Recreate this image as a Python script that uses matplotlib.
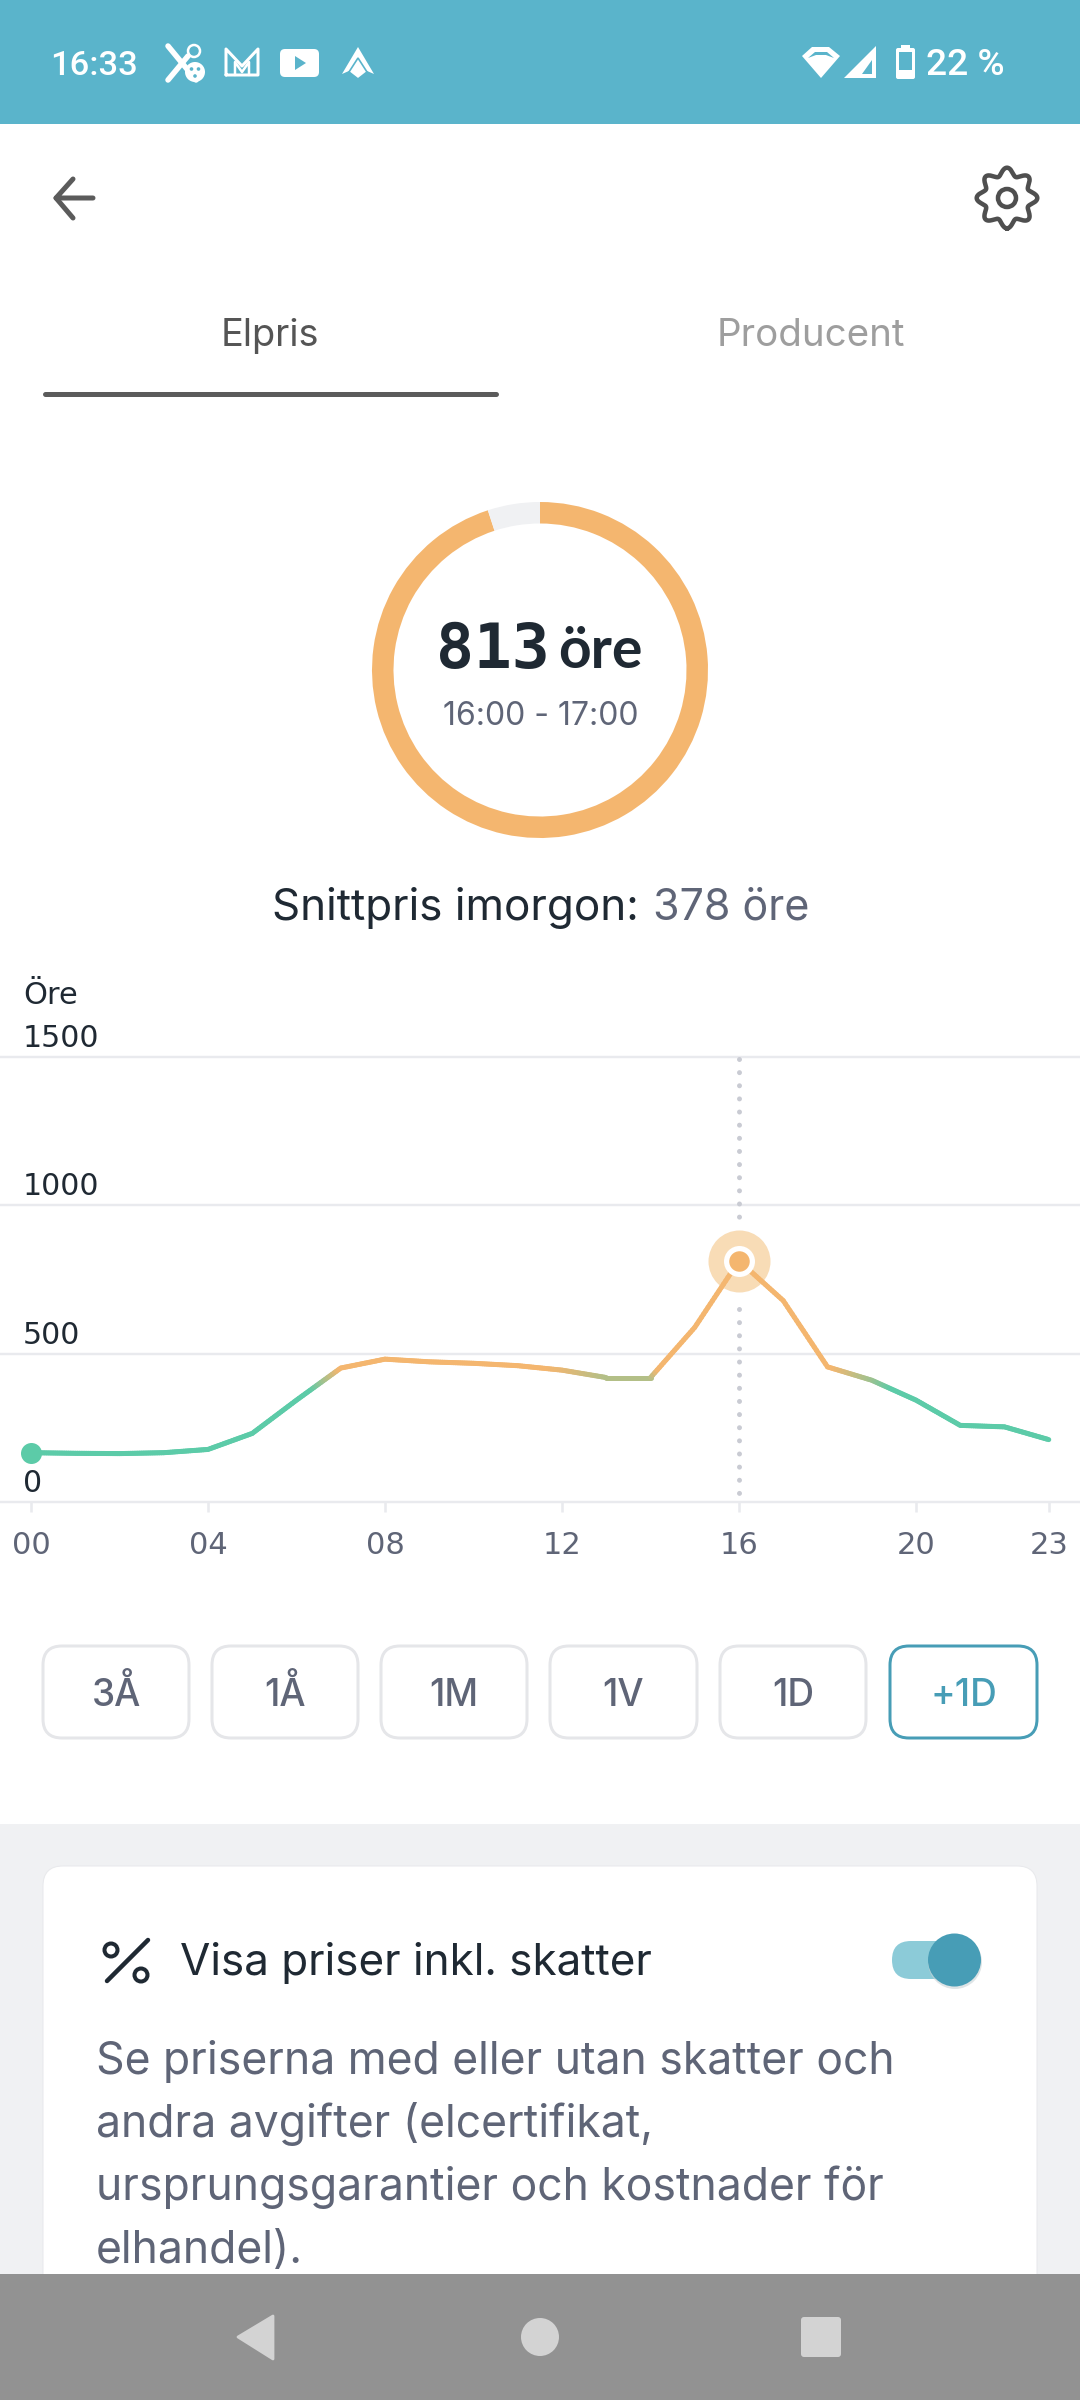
import numpy as np
import matplotlib
matplotlib.use("Agg")
import matplotlib.pyplot as plt
from matplotlib.collections import LineCollection
from matplotlib.colors import to_rgb
from matplotlib.patches import FancyBboxPatch, Circle, Polygon, Rectangle

# ---------- data ----------
hours = list(range(24))
prices = [167, 165, 164, 167, 178, 232, 344, 452, 482, 473, 468, 460,
          445, 420, 420, 589, 813, 679, 456, 411, 344, 259, 254, 211]
highlight_hour = 16
y_ticks = [0, 500, 1000, 1500]
x_ticks = [0, 4, 8, 12, 16, 20, 23]
x_tick_labels = ["00", "04", "08", "12", "16", "20", "23"]
ring_values = [813, 43]
range_buttons = ["3Å", "1Å", "1M", "1V", "1D", "+1D"]
body_lines = ["Se priserna med eller utan skatter och",
              "andra avgifter (elcertifikat,",
              "ursprungsgarantier och kostnader för",
              "elhandel)."]

# ---------- colours ----------
DARK = "#1F2933"
GREY = "#5F6577"
GREEN = "#5CCBA8"
ORANGE = "#F4B66F"
TEAL = "#479DB6"
GRID = "#E9EAEE"
PANEL = "#F0F1F3"

W, H = 1080, 2400
PX = 0.72
fig = plt.figure(figsize=(W / 100, H / 100), dpi=100, facecolor="white")

ui = fig.add_axes([0, 0, 1, 1], zorder=1)
ui.set_xlim(0, W)
ui.set_ylim(H, 0)
ui.axis("off")


def T(ax, x, y, s, px, color=DARK, ha="left", family="Inter", weight="normal", zorder=10):
    return ax.text(x, y, s, fontsize=px * PX, color=color, ha=ha, va="baseline",
                   family=family, weight=weight, zorder=zorder)


def rbox(x0, y0, x1, y1, r, fc="white", ec="none", lw=0, zorder=2):
    p = FancyBboxPatch((x0 + r, y0 + r), x1 - x0 - 2 * r, y1 - y0 - 2 * r,
                       boxstyle=f"round,pad={r},rounding_size={r}",
                       fc=fc, ec=ec, lw=lw * PX, zorder=zorder)
    ui.add_patch(p)
    return p


def stroke(xs, ys, color, lw, zorder=5):
    ui.plot(xs, ys, color=color, lw=lw * PX, solid_capstyle="round",
            solid_joinstyle="round", zorder=zorder)


# ---------- backgrounds ----------
ui.add_patch(Rectangle((0, 0), W, 124, fc="#5AB4CB", ec="none", zorder=1))
ui.add_patch(Rectangle((0, 1824), W, 576, fc=PANEL, ec="none", zorder=1))
rbox(43, 1866, 1037, 2340, 20, fc="white", ec="#E8E9EC", lw=1, zorder=2)
ui.add_patch(Rectangle((0, 2274), W, 126, fc="#929292", ec="none", zorder=6))

# ---------- status bar ----------
T(ui, 50, 75, "16:33", 34.5, "white", family="Roboto", weight="medium")
# scissors + reel
stroke([168, 196], [46, 80], "white", 5.5)
stroke([168, 188], [80, 56], "white", 5.5)
ui.add_patch(Circle((194, 51), 6, fc="none", ec="white", lw=2.5 * PX, zorder=5))
ui.add_patch(Circle((195, 72), 10, fc="white", ec="none", zorder=5))
for dx, dy in [(-3.5, -3), (3.5, -3), (0, 4)]:
    ui.add_patch(Circle((195 + dx, 72 + dy), 1.8, fc="#5AB4CB", ec="none", zorder=6))
# M
stroke([226, 226, 242, 258, 258, 226], [75, 49, 66, 49, 75, 75], "white", 3)
stroke([235, 235, 242, 249, 249], [75, 62, 72, 62, 75], "white", 2.5)
# play icon
rbox(280, 49, 319, 77, 5, fc="white", zorder=5)
ui.add_patch(Polygon([[295, 56], [295, 70], [306, 63]], fc="#5AB4CB", ec="none", zorder=6))
# arrow icon
ui.add_patch(Polygon([[358, 47], [374, 74], [358, 67], [342, 74]], fc="white", ec="none", zorder=5))
ui.add_patch(Polygon([[358, 58], [367, 72], [358, 79], [349, 72]], fc="white", ec="#5AB4CB", lw=1.2, zorder=6))
# wifi
ui.add_patch(Polygon([[802, 56], [812, 47], [829, 47], [840, 56], [821, 78]], fc="white", ec="none", zorder=5))
ui.add_patch(Polygon([[808, 58], [815, 52], [827, 52], [834, 58], [826, 55], [816, 55]],
                     fc="#5AB4CB", ec="none", zorder=6))
# signal
ui.add_patch(Polygon([[844, 78], [876, 78], [876, 46]], fc="white", ec="none", zorder=5))
ui.add_patch(Polygon([[862, 74], [872, 74], [872, 60]], fc="#5AB4CB", ec="none", zorder=6))
# battery
rbox(896, 48, 915, 79, 2, fc="white", zorder=5)
ui.add_patch(Rectangle((901, 45), 9, 4, fc="white", ec="none", zorder=5))
ui.add_patch(Rectangle((899, 52), 13, 18, fc="#5AB4CB", ec="none", zorder=6))
T(ui, 926, 75, "22 %", 37, "white", family="Roboto", weight="medium")

# ---------- header ----------
stroke([93, 56, 73], [198, 198, 179], "#5B5B5B", 5)
stroke([56, 73], [198, 218], "#5B5B5B", 5)
theta = np.linspace(0, 2 * np.pi, 400)
rad = 26.5 + 3.8 * np.cos(8 * theta)
ui.plot(1007 + rad * np.sin(theta), 198 + rad * np.cos(theta), color="#4F4F4F", lw=4.5 * PX, zorder=5)
ui.add_patch(Circle((1007, 198), 9, fc="none", ec="#4F4F4F", lw=4.5 * PX, zorder=5))

T(ui, 270, 346, "Elpris", 38, "#555555", ha="center")
T(ui, 811, 346, "Producent", 38.5, "#9E9E9E", ha="center")
stroke([45, 496], [394, 394], "#5B5B5B", 5)

# ---------- ring (pie) ----------
ring = fig.add_axes([(540 - 168) / W, 1 - (670 + 168) / H, 336 / W, 336 / H], zorder=2)
ring.pie(ring_values, colors=[ORANGE, PANEL], startangle=90, counterclock=False, radius=1,
         wedgeprops=dict(width=21.5 / 168, linewidth=0))
ring.set_xlim(-1, 1)
ring.set_ylim(-1, 1)
ring.patch.set_alpha(0)

T(ui, 436, 668, "813", 63, DARK, family="DejaVu Sans Mono", weight="bold")
T(ui, 558, 668, "öre", 57, DARK, family="Lato", weight="bold")
T(ui, 541, 725, "16:00 - 17:00", 32, GREY, ha="center")
T(ui, 272, 920, "Snittpris imorgon:", 44, DARK)
T(ui, 653, 920, "378 öre", 43, GREY)

# ---------- chart ----------
px_per_hour = 44.25
x0_px = 31
y_top, y_bot = 1056.8, 1502.3
ax = fig.add_axes([0, 1 - y_bot / H, 1, (y_bot - y_top) / H], zorder=3)
ax.patch.set_alpha(0)
ax.set_xlim(-x0_px / px_per_hour, (W - x0_px) / px_per_hour)
ax.set_ylim(0, 1500)
for s in ax.spines.values():
    s.set_visible(False)
ax.set_yticks(y_ticks)
ax.set_yticklabels([])
ax.tick_params(axis="y", length=0)
ax.grid(axis="y", color=GRID, lw=2.4 * PX, zorder=0)
ax.set_axisbelow(True)
for g in ax.get_ygridlines():
    g.set_clip_on(False)
ax.set_xticks(x_ticks)
ax.set_xticklabels(x_tick_labels, fontsize=30.5 * PX, color=GREY, family="DejaVu Sans")
ax.tick_params(axis="x", length=10 * PX, width=2.6 * PX, color=GRID, pad=19 * PX)

for v in y_ticks:
    ax.annotate(str(v), xy=(0, v), xycoords=("axes fraction", "data"),
                xytext=(23 * PX, 10 * PX), textcoords="offset points",
                fontsize=30 * PX, color=DARK, family="DejaVu Sans", va="baseline", ha="left")
ax.annotate("Öre", xy=(0, 1500), xycoords=("axes fraction", "data"),
            xytext=(23 * PX, 53 * PX), textcoords="offset points",
            fontsize=30.5 * PX, color=DARK, family="DejaVu Sans", va="baseline", ha="left")

# dotted marker line, broken around the highlighted point
dot_lw = 5 * PX
for seg in ([1491, 961], [651, 32]):
    ax.plot([highlight_hour, highlight_hour], seg, color="#C9CBD3", lw=dot_lw,
            linestyle=(0, (0.001, 13.13 / 5)), dash_capstyle="round", zorder=2)

# price line, coloured by value
hi_val = prices[hours.index(highlight_hour)]
ax.scatter([highlight_hour], [hi_val], s=(62 * PX) ** 2, color="#F8DCB6", linewidths=0, zorder=3)

xf, yf = [], []
for i in range(len(hours) - 1):
    tt = np.linspace(0, 1, 20, endpoint=False)
    xf.extend(hours[i] + tt * (hours[i + 1] - hours[i]))
    yf.extend(prices[i] + tt * (prices[i + 1] - prices[i]))
xf.append(hours[-1])
yf.append(prices[-1])
xf, yf = np.array(xf), np.array(yf)
pts = np.column_stack([xf, yf])
segs = np.stack([pts[:-1], pts[1:]], axis=1)
t = np.clip(((yf[:-1] + yf[1:]) / 2 - 380) / (450 - 380), 0, 1)[:, None]
cols = (1 - t) * np.array(to_rgb(GREEN)) + t * np.array(to_rgb(ORANGE))
lc = LineCollection(segs, colors=cols, linewidths=5 * PX, capstyle="round", joinstyle="round", zorder=4)
ax.add_collection(lc)

ax.scatter([highlight_hour], [hi_val], s=(31 * PX) ** 2, color="white", linewidths=0, zorder=5)
ax.scatter([highlight_hour], [hi_val], s=(20.5 * PX) ** 2, color=ORANGE, linewidths=0, zorder=6)
ax.scatter([hours[0]], [prices[0]], s=(21 * PX) ** 2, color=GREEN, linewidths=0, zorder=6)

# ---------- range buttons ----------
btn_x = [(43, 189), (212, 358), (381, 527), (550, 697), (720, 866), (890, 1037)]
for (a, b), lab in zip(btn_x, range_buttons):
    active = lab == "+1D"
    rbox(a, 1646, b, 1738, 19, fc="white", ec=TEAL if active else "#E5E6E9", lw=3, zorder=3)
    T(ui, (a + b) / 2, 1706, lab, 37, TEAL if active else GREY, ha="center", weight="medium")

# ---------- card ----------
stroke([107, 148], [1981, 1940], DARK, 4.5)
ui.add_patch(Circle((111, 1950), 6.5, fc="none", ec=DARK, lw=4 * PX, zorder=5))
ui.add_patch(Circle((141, 1975), 6.5, fc="none", ec=DARK, lw=4 * PX, zorder=5))
T(ui, 180, 1975, "Visa priser inkl. skatter", 44, DARK)
rbox(892, 1941, 975, 1979, 19, fc="#8CCBD8", zorder=3)
ui.add_patch(Circle((955, 1962), 27, fc="#C9D3D6", ec="none", alpha=0.6, zorder=4))
ui.add_patch(Circle((954.5, 1960), 26.5, fc=TEAL, ec="none", zorder=5))
for base, line in zip([2074, 2137, 2200, 2263], body_lines):
    T(ui, 96, base, line, 44.5, GREY, zorder=3)

# ---------- nav bar ----------
ui.add_patch(Polygon([[238, 2337], [273, 2316], [273, 2359]], fc="#D3D3D3", ec="#D3D3D3", lw=2, joinstyle="round", zorder=7))
ui.add_patch(Circle((540, 2337), 19, fc="#D3D3D3", ec="none", zorder=7))
rbox(801, 2317, 841, 2357, 3, fc="#D3D3D3", zorder=7)

fig.savefig("out.png", dpi=100, facecolor="white")
